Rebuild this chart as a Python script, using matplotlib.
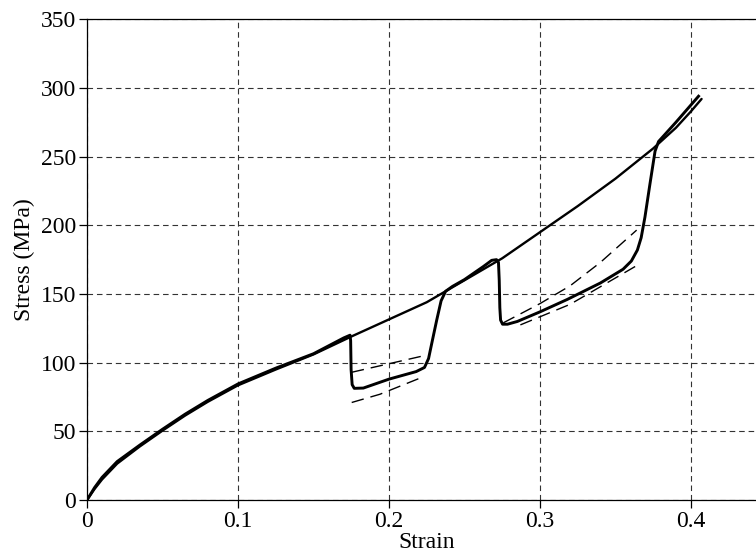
import matplotlib
matplotlib.use("Agg")
import matplotlib.pyplot as plt

# --- data ---
# monotonic (continuous hardening) curve
strain_mono = [0, 0.005, 0.01, 0.02, 0.035, 0.05, 0.065, 0.08, 0.1, 0.125,
               0.15, 0.175, 0.2, 0.225, 0.25, 0.275, 0.3, 0.325, 0.35, 0.375,
               0.39, 0.4, 0.407]
stress_mono = [0, 8, 15, 26.5, 39, 50.5, 61.5, 71.5, 83.5, 95,
               106, 119, 131.5, 144, 160, 176, 195, 214, 234, 256,
               271, 283, 292]

# curve with two stress drops
strain_step = [0, 0.005, 0.01, 0.02, 0.035, 0.05, 0.065, 0.08, 0.1, 0.125,
               0.15, 0.17, 0.1742, 0.1746, 0.1749, 0.1756, 0.177, 0.183, 0.2,
               0.218, 0.2235, 0.2262, 0.2285, 0.2316, 0.2345, 0.2375, 0.242,
               0.25, 0.2625, 0.268, 0.2712, 0.2725, 0.273, 0.2734, 0.2739,
               0.2752, 0.2785, 0.285, 0.3, 0.318, 0.34, 0.355, 0.3605, 0.3645,
               0.367, 0.3695, 0.3728, 0.3762, 0.3785, 0.39, 0.405]
stress_step = [0, 9, 16.5, 28, 40, 51.5, 62.5, 72.5, 84.5, 96,
               106.5, 118, 120, 116, 95, 84, 81.3, 81.5, 88,
               93.5, 96.5, 103, 115, 131, 145, 152, 155.5,
               160.5, 170, 174.5, 175, 173, 160, 140, 131,
               128, 128, 130, 137, 146, 158, 168, 174, 182,
               191, 206, 230, 254, 261, 275, 294]

# dashed model lines in the two drop regions
strain_d1_up = [0.1753, 0.2249]
stress_d1_up = [93, 105.5]
strain_d1_lo = [0.1753, 0.194, 0.2227]
stress_d1_lo = [71, 77, 89.7]
strain_d2_up = [0.2757, 0.3, 0.32, 0.34, 0.364]
stress_d2_up = [129, 143, 156, 173, 196.5]
strain_d2_lo = [0.287, 0.32, 0.363]
stress_d2_lo = [127.5, 142.5, 170]

xticks = [0, 0.1, 0.2, 0.3, 0.4]
xticklabels = ["0", "0.1", "0.2", "0.3", "0.4"]
yticks = [0, 50, 100, 150, 200, 250, 300, 350]

plt.rcParams["font.family"] = ["Liberation Serif", "DejaVu Serif"]
plt.rcParams["font.size"] = 17

fig = plt.figure(figsize=(7.56, 5.58), dpi=100)
ax = fig.add_axes([87 / 756, 58 / 558, 0.45 * 1510 / 756, 480.7 / 558])

ax.plot(strain_mono, stress_mono, color="k", lw=1.7, solid_capstyle="round")
ax.plot(strain_step, stress_step, color="k", lw=2.1, solid_joinstyle="round")

dash = (0, (9, 5))
for xs, ys in [(strain_d1_up, stress_d1_up), (strain_d1_lo, stress_d1_lo),
               (strain_d2_up, stress_d2_up), (strain_d2_lo, stress_d2_lo)]:
    ax.plot(xs, ys, color="k", lw=1.0, linestyle=dash)

ax.set_xlim(0, 0.45)
ax.set_ylim(0, 350)
ax.set_xticks(xticks)
ax.set_xticklabels(xticklabels)
ax.set_yticks(yticks)
ax.set_axisbelow(True)
ax.grid(True, color="0.2", lw=0.8, linestyle=(0, (5, 3.5)))
ax.tick_params(direction="out", length=6, width=0.9, pad=2)
for s in ax.spines.values():
    s.set_linewidth(0.9)
ax.spines["right"].set_visible(False)

ax.set_xlabel("Strain", labelpad=0)
ax.set_ylabel("Stress (MPa)", labelpad=4)

fig.savefig("out.png", dpi=100)
